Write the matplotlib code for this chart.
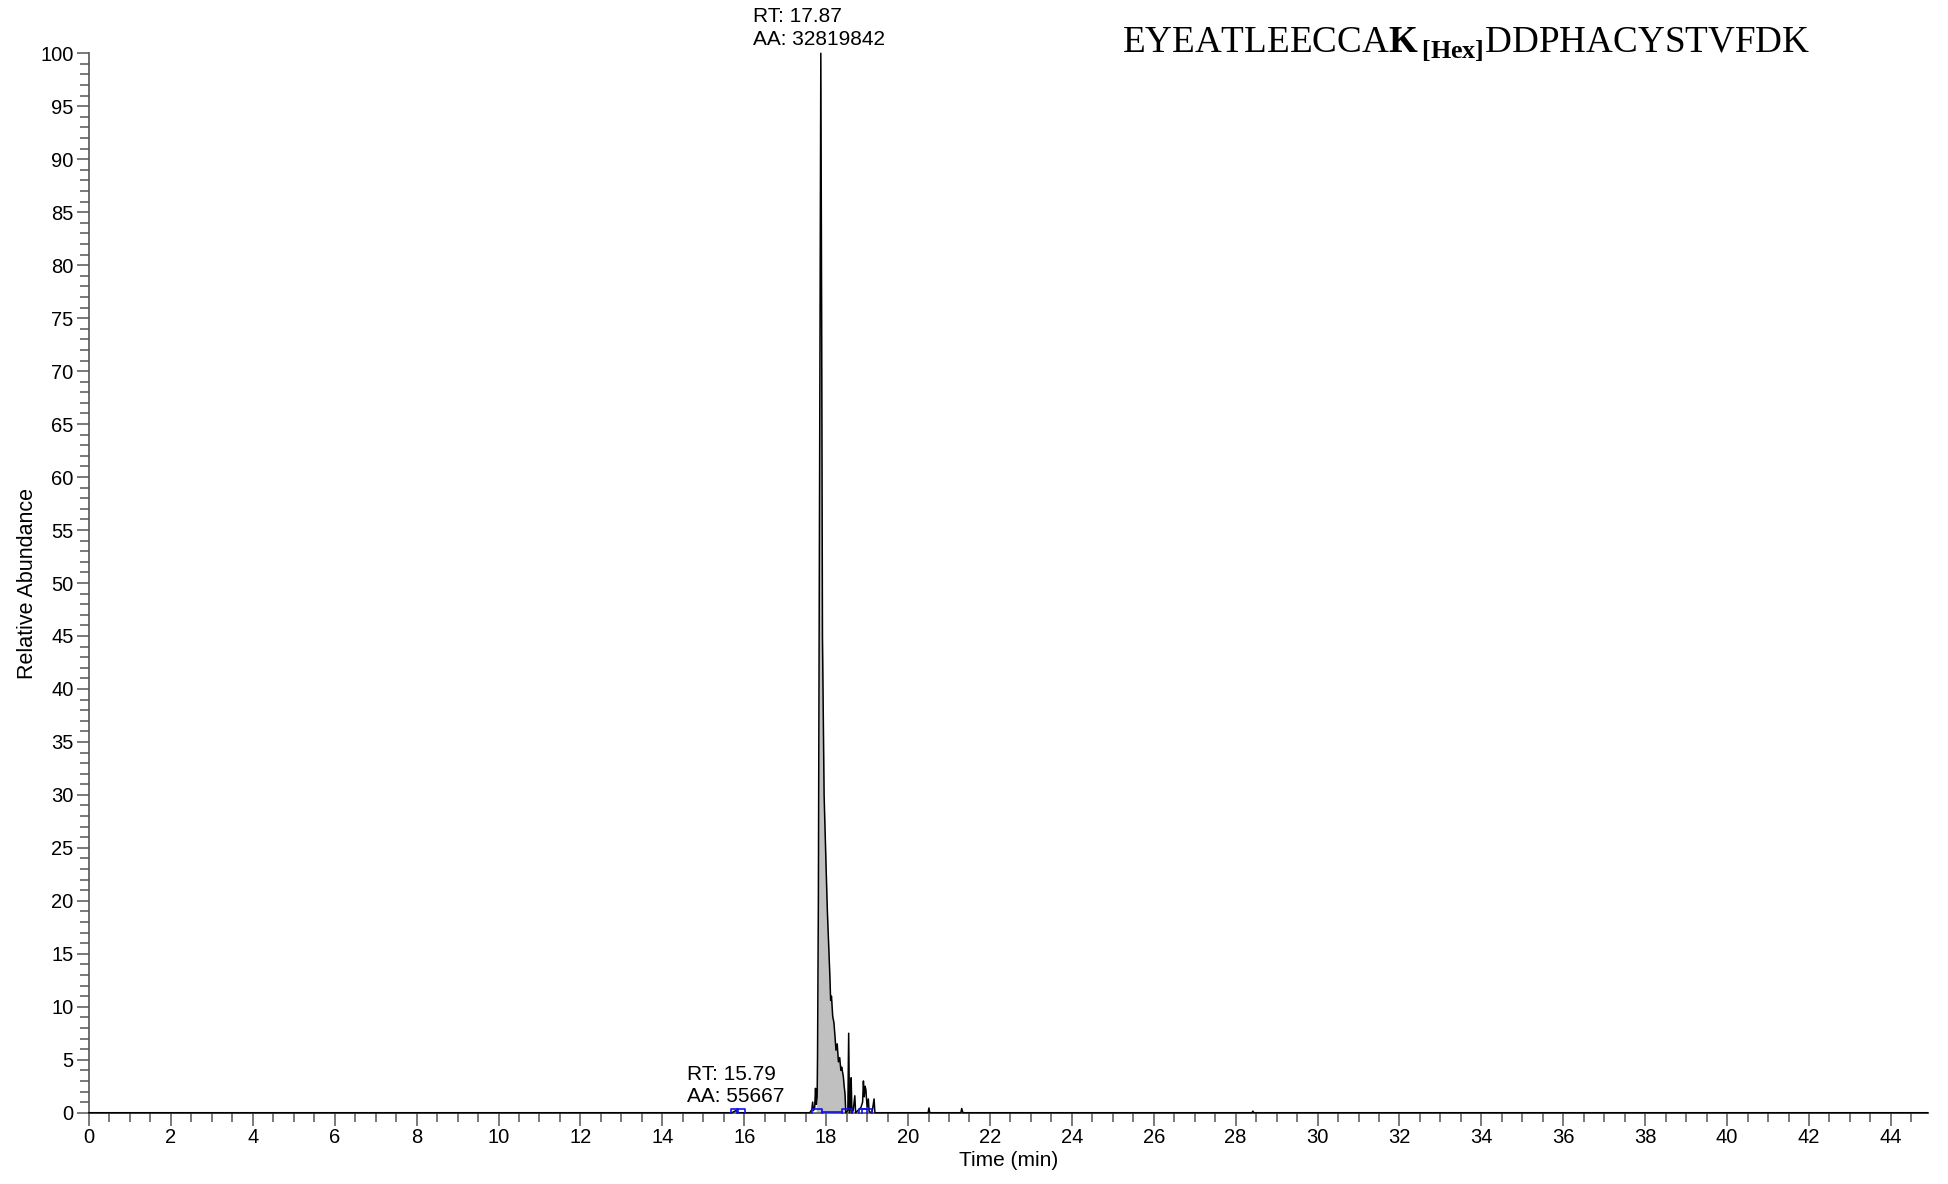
import numpy as np
import matplotlib
matplotlib.use('Agg')
import matplotlib.pyplot as plt
from matplotlib.ticker import MultipleLocator

plt.rcParams['font.family'] = ['Liberation Sans', 'DejaVu Sans']
plt.rcParams['mathtext.fontset'] = 'custom'
plt.rcParams['mathtext.rm'] = 'Liberation Serif'
plt.rcParams['mathtext.bf'] = 'Liberation Serif:bold'

# chromatogram trace (time in min, relative abundance)
time = [0.0, 15.70, 15.79, 15.84, 17.60, 17.65, 17.67, 17.69, 17.72, 17.74, 17.76, 17.78,
        17.79, 17.81, 17.84, 17.87, 17.89, 17.91, 17.95, 18.00, 18.03, 18.06, 18.09,
        18.11, 18.13, 18.16, 18.19, 18.22, 18.24, 18.27, 18.30, 18.33, 18.36, 18.38,
        18.42, 18.44, 18.46, 18.48, 18.53, 18.55, 18.57, 18.59, 18.61, 18.63, 18.66,
        18.70, 18.72, 18.85, 18.89, 18.91, 18.93, 18.95, 18.97, 19.00, 19.03, 19.05,
        19.12, 19.17, 19.19, 20.49, 20.51, 20.53, 21.29, 21.31, 21.34, 28.40, 28.42,
        28.44, 44.9]
abundance = [0.0, 0.0, 0.2, 0.0, 0.0, 0.3, 1.0, 0.2, 0.5, 2.3, 0.8, 1.5,
             5.5, 20.0, 60.0, 100.0, 75.0, 45.0, 30.0, 23.0, 19.0, 16.0, 13.0,
             10.6, 11.0, 9.1, 8.5, 7.0, 5.9, 6.5, 4.8, 5.2, 4.0, 4.3,
             3.4, 2.5, 1.8, 0.0, 0.2, 7.5, 0.0, 0.5, 3.3, 0.0, 0.2,
             1.6, 0.0, 0.5, 1.0, 3.0, 1.5, 2.5, 2.2, 0.5, 1.3, 0.1,
             0.0, 1.3, 0.0, 0.0, 0.45, 0.0, 0.0, 0.4, 0.0, 0.0, 0.15,
             0.0, 0.0]

# integrated area of the main peak
fill_start, fill_end = 17.76, 18.48

# peak boundary markers (blue boxes) and baseline between them
marker_boxes = [(15.68, 15.84), (15.82, 16.02), (17.65, 17.89), (18.39, 18.62),
                (18.79, 18.99), (18.87, 19.11)]
marker_lines = [(17.89, 18.39)]

peak_labels = [(17.87, 'RT: 17.87\nAA: 32819842', 16.21, 100.4),
               (15.79, 'RT: 15.79\nAA: 55667', 14.60, 0.6)]

title = r'EYEATLEECCA$\mathbf{K}_{\,\mathbf{[Hex]}}$DDPHACYSTVFDK'

fig = plt.figure(figsize=(19.48, 11.84), dpi=100)
ax = fig.add_axes([0.0457, 0.0602, 0.9439, 0.8948])

t = np.array(time)
a = np.array(abundance)
mask = (t >= fill_start) & (t <= fill_end)
ax.fill_between(t[mask], 0, a[mask], color='#c0c0c0', linewidth=0)
ax.plot(t, a, color='black', linewidth=1.1, clip_on=False, zorder=3)

for x0, x1 in marker_boxes:
    ax.plot([x0, x0, x1, x1], [0, 0.35, 0.35, 0], color='#1010ee', linewidth=1.2,
            clip_on=False, zorder=4)
for x0, x1 in marker_lines:
    ax.plot([x0, x1], [0.05, 0.05], color='#1010ee', linewidth=1.2, clip_on=False, zorder=4)

for rt, txt, tx, ty in peak_labels:
    ax.text(tx, ty, txt, fontsize=15, ha='left', va='bottom', linespacing=1.25,
            clip_on=False)

ax.set_xlim(0, 44.9)
ax.set_ylim(0, 100)
ax.xaxis.set_major_locator(MultipleLocator(2))
ax.xaxis.set_minor_locator(MultipleLocator(0.5))
ax.yaxis.set_major_locator(MultipleLocator(5))
ax.yaxis.set_minor_locator(MultipleLocator(1))
ax.tick_params(which='major', direction='out', length=9, width=1.1, color='#555555',
               labelsize=14.5, pad=2)
ax.tick_params(which='minor', direction='out', length=6.5, width=1.1, color='#555555')
for s in ['top', 'right']:
    ax.spines[s].set_visible(False)
for s in ['left', 'bottom']:
    ax.spines[s].set_color('#555555')
    ax.spines[s].set_linewidth(1.2)

ax.set_xlabel('Time (min)', fontsize=15, labelpad=3)
ax.set_ylabel('Relative Abundance', fontsize=15.5, labelpad=1.5)

fig.text(1122 / 1948, 1 - 52 / 1184, title, fontsize=26.7, family='Liberation Serif',
         ha='left', va='baseline')

fig.savefig('out.png', dpi=100)
